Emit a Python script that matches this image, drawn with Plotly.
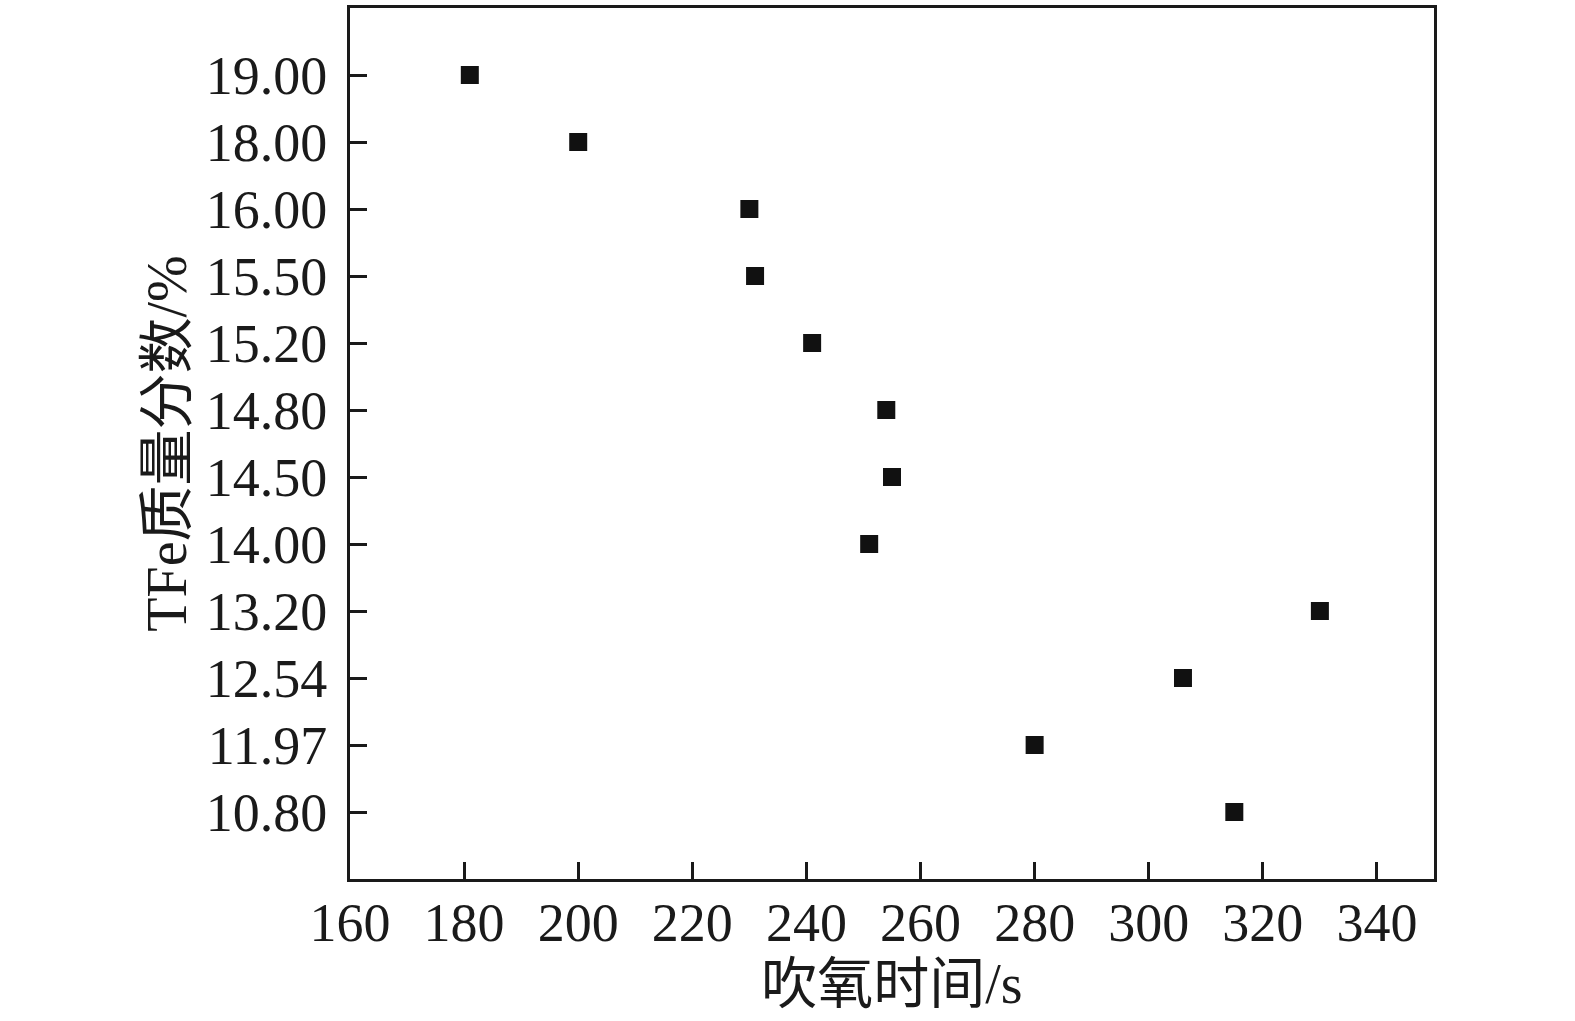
import plotly.graph_objects as go

# Data
time_s = [181, 200, 230, 231, 241, 254, 255, 251, 330, 306, 280, 315]
tfe = ["19.00", "18.00", "16.00", "15.50", "15.20", "14.80", "14.50", "14.00",
       "13.20", "12.54", "11.97", "10.80"]
y_categories = ["10.80", "11.97", "12.54", "13.20", "14.00", "14.50", "14.80",
                "15.20", "15.50", "16.00", "18.00", "19.00"]
x_ticks = [160, 180, 200, 220, 240, 260, 280, 300, 320, 340]

FONT = "Liberation Serif, Times New Roman, Noto Sans CJK SC, serif"

fig = go.Figure()
fig.add_trace(go.Scatter(
    x=time_s, y=tfe, mode="markers",
    marker=dict(symbol="square", size=18, color="#111111", line=dict(width=0)),
    showlegend=False,
))

fig.update_layout(
    width=1575, height=1021,
    margin=dict(l=350, r=141, t=5, b=142),
    paper_bgcolor="white", plot_bgcolor="white",
    font=dict(family=FONT, size=54, color="#1a1a1a"),
)
fig.update_xaxes(
    range=[160, 350], tickvals=x_ticks, ticks="inside", ticklen=17, tickwidth=2.5,
    tickcolor="#1a1a1a", showline=True, linewidth=3, linecolor="#1a1a1a",
    mirror=True, showgrid=False, zeroline=False,
    tickfont=dict(family=FONT, size=54), ticklabelstandoff=-6,
    title=dict(text="吹氧时间/s", font=dict(family=FONT, size=56), standoff=4),
)
fig.update_yaxes(
    type="category", categoryorder="array", categoryarray=y_categories,
    range=[-1, 12], ticks="inside", ticklen=17, tickwidth=2.5,
    tickcolor="#1a1a1a", showline=True, linewidth=3, linecolor="#1a1a1a",
    mirror=True, showgrid=False, zeroline=False,
    tickfont=dict(family=FONT, size=54), ticklabelstandoff=9,
    title=dict(text="TFe质量分数/%", font=dict(family=FONT, size=56), standoff=2),
)

fig.write_html("out.html", config={"displayModeBar": False})
with open("out.html", "r", encoding="utf-8") as f:
    html = f.read()
html = html.replace("<body>", '<body style="margin:0;padding:0">', 1)
with open("out.html", "w", encoding="utf-8") as f:
    f.write(html)
